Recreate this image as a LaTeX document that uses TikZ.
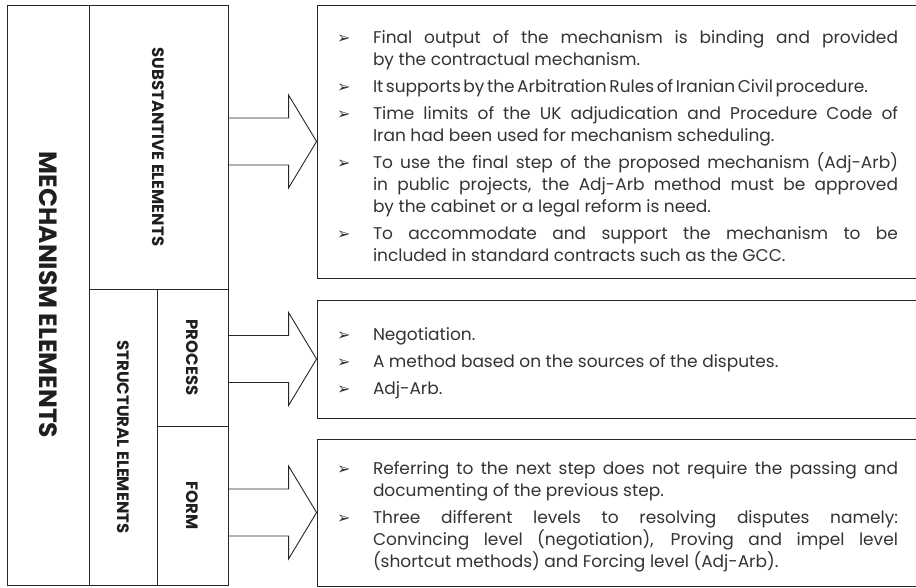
\documentclass[tikz,border=0pt]{standalone}
\usepackage{fontspec}
\setmainfont{Poppins}
\newfontfamily\symfont{DejaVu Sans}
\usetikzlibrary{calc}
\newcommand\bul{{\symfont\fontsize{16}{16}\selectfont ➢}}
\newenvironment{blist}{\begin{list}{\bul}{\setlength\leftmargin{36pt}\setlength\labelsep{21pt}\setlength\labelwidth{15pt}\setlength\itemindent{0pt}\setlength\itemsep{5pt}\setlength\topsep{0pt}\setlength\parsep{0pt}\setlength\partopsep{0pt}\renewcommand\makelabel[1]{##1\hfil}}}{\end{list}}
\begin{document}
\begin{tikzpicture}[x=1pt,y=-1pt,
  frame/.style={draw=black!85, line width=0.9pt, inner sep=0pt, text=black!88},
  vlabel/.style={frame, rotate=-90, font=\bfseries\fontsize{16.5}{18}\selectfont},
  txtbox/.style={frame, text width=561pt, align=justify, inner xsep=20pt, inner ysep=0pt, font=\fontsize{17}{22}\selectfont, text=black!80},
  arrowline/.style={draw=black!85, line width=0.9pt, line join=miter}]
\useasboundingbox (0,0) rectangle (916,587);
% left column
\node[vlabel, font=\bfseries\fontsize{25}{28}\selectfont, minimum width=580pt, minimum height=82pt] (mech) at (48,295) {MECHANISM ELEMENTS};
\node[vlabel, minimum width=284pt, minimum height=139pt] (subst) at (158.5,147) {SUBSTANTIVE ELEMENTS};
\node[vlabel, minimum width=296pt, minimum height=68pt] (struct) at (123,437) {STRUCTURAL ELEMENTS};
\node[vlabel, minimum width=137pt, minimum height=71pt] (proc) at (192.5,357.5) {PROCESS};
\node[vlabel, minimum width=159pt, minimum height=71pt] (form) at (192.5,505.5) {FORM};
% right boxes
\node[txtbox, minimum height=273pt] (box1) at (617.5,141.5) {%
\begin{blist}
\item Final output of the mechanism is binding and provided\linebreak by the contractual mechanism.
\item {\spaceskip=0.15em plus 0.1em minus 0.05em It supports by the Arbitration Rules of Iranian Civil procedure.}
\item Time limits of the UK adjudication and Procedure Code of\linebreak Iran had been used for mechanism scheduling.
\item To use the final step of the proposed mechanism (Adj-Arb)\linebreak in public projects, the Adj-Arb method must be approved\linebreak by the cabinet or a legal reform is need.
\item To accommodate and support the mechanism to be\linebreak included in standard contracts such as the GCC.
\end{blist}};
\node[txtbox, minimum height=118pt] (box2) at (617.5,359) {%
\begin{blist}
\item Negotiation.
\item A method based on the sources of the disputes.
\item Adj-Arb.
\end{blist}};
\node[txtbox, minimum height=147pt] (box3) at (617.5,512.5) {%
\begin{blist}
\item Referring to the next step does not require the passing and\linebreak documenting of the previous step.
\item Three different levels to resolving disputes namely:\linebreak Convincing level (negotiation), Proving and impel level\linebreak (shortcut methods) and Forcing level (Adj-Arb).
\end{blist}};
% block arrows
\newcommand\blockarr[2]{\draw[arrowline] let \p1=(#1.north), \p2=(#2.west) in
  (\x1,\y2+23.5pt) -- (\x2-28pt,\y2+23.5pt) -- (\x2-28pt,\y2+46.5pt) -- (#2.west)
  -- (\x2-28pt,\y2-46.5pt) -- (\x2-28pt,\y2-23.5pt) -- (\x1,\y2-23.5pt);}
\blockarr{subst}{box1}
\blockarr{proc}{box2}
\blockarr{form}{box3}
\end{tikzpicture}
\end{document}
